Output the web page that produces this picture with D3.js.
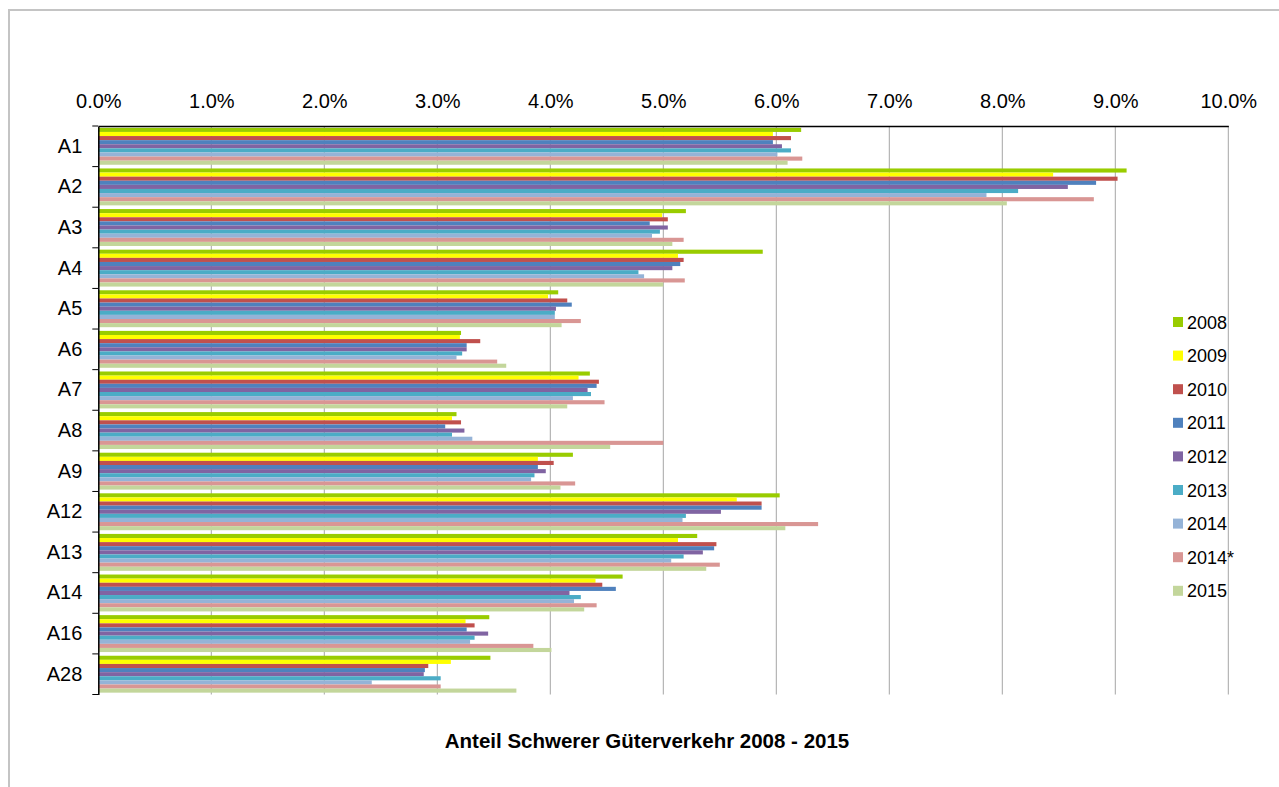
<!DOCTYPE html>
<html>
<head>
<meta charset="utf-8">
<script src="https://cdn.jsdelivr.net/npm/d3@7/dist/d3.min.js"></script>
<style>
  body { margin: 0; background: #fff; }
  svg { display: block; font-family: Arial, "Liberation Sans", sans-serif; }
</style>
</head>
<body>
<svg id="chart" width="1279" height="787"></svg>
<script>
const categories = ["A1", "A2", "A3", "A4", "A5", "A6", "A7", "A8", "A9", "A12", "A13", "A14", "A16", "A28"];
const years = ["2008", "2009", "2010", "2011", "2012", "2013", "2014", "2014*", "2015"];
const colors = ["#99CC00", "#FFFF00", "#C0504D", "#4F81BD", "#8064A2", "#4BACC6", "#95B3D7", "#D99694", "#C3D69B"];
const xTicks = [0, 0.01, 0.02, 0.03, 0.04, 0.05, 0.06, 0.07, 0.08, 0.09, 0.10];

// share per road and year, in percent
const v2008 = [6.22, 9.10, 5.20, 5.88, 4.07, 3.21, 4.35, 3.17, 4.20, 6.03, 5.30, 4.64, 3.46, 3.47];
const v2009 = [5.97, 8.45, 4.99, 5.13, 3.98, 3.20, 4.25, 3.13, 3.89, 5.65, 5.13, 4.40, 3.25, 3.12];
const v2010 = [6.13, 9.02, 5.04, 5.18, 4.15, 3.38, 4.43, 3.21, 4.03, 5.87, 5.47, 4.46, 3.33, 2.92];
const v2011 = [5.97, 8.83, 4.88, 5.15, 4.19, 3.26, 4.41, 3.07, 3.89, 5.87, 5.45, 4.58, 3.26, 2.89];
const v2012 = [6.05, 8.58, 5.04, 5.08, 4.05, 3.26, 4.33, 3.24, 3.96, 5.51, 5.35, 4.17, 3.45, 2.88];
const v2013 = [6.13, 8.14, 4.97, 4.78, 4.04, 3.22, 4.36, 3.13, 3.86, 5.20, 5.18, 4.27, 3.33, 3.03];
const v2014 = [6.01, 7.86, 4.90, 4.83, 4.04, 3.17, 4.20, 3.31, 3.83, 5.17, 5.07, 4.21, 3.29, 2.42];
const v2014s = [6.23, 8.81, 5.18, 5.19, 4.27, 3.53, 4.48, 5.00, 4.22, 6.37, 5.50, 4.41, 3.85, 3.03];
const v2015 = [6.10, 8.04, 5.08, 5.00, 4.10, 3.61, 4.15, 4.53, 4.09, 6.08, 5.38, 4.30, 4.01, 3.70];
const series = [v2008, v2009, v2010, v2011, v2012, v2013, v2014, v2014s, v2015];

const svg = d3.select("#chart");
const plotLeft = 98.3, plotRight = 1228.3, plotTop = 126, plotBottom = 694.5;

// outer frame (only top and left visible)
svg.append("path")
  .attr("d", "M9,787 L9,10 L1279,10")
  .attr("fill", "none")
  .attr("stroke", "#C4C4C4")
  .attr("stroke-width", 2);

const x = d3.scaleLinear().domain([0, 0.10]).range([plotLeft, plotRight]);
const y = d3.scaleBand().domain(categories).range([plotTop, plotBottom]);
const yInner = d3.scaleBand().domain(years).range([0, y.bandwidth()]).paddingOuter(0.45);

// gridlines
svg.append("g")
  .selectAll("line")
  .data(xTicks.slice(1))
  .enter()
  .append("line")
  .attr("x1", d => x(d)).attr("x2", d => x(d))
  .attr("y1", plotTop).attr("y2", plotBottom)
  .attr("stroke", "#A6A6A6")
  .attr("stroke-width", 1);

// bars
const groups = svg.append("g")
  .selectAll("g")
  .data(categories)
  .enter()
  .append("g")
  .attr("transform", d => `translate(0,${y(d)})`);

groups.selectAll("rect")
  .data((c, i) => years.map((yr, j) => ({ yr, j, v: series[j][i] / 100 })))
  .enter()
  .append("rect")
  .attr("x", x(0))
  .attr("y", d => yInner(d.yr))
  .attr("width", d => x(d.v) - x(0))
  .attr("height", yInner.bandwidth())
  .attr("fill", d => colors[d.j]);

// top axis
const xAxis = svg.append("g")
  .attr("transform", `translate(0,${plotTop})`)
  .call(d3.axisTop(x).tickValues(xTicks).tickFormat(d3.format(".1%")).tickSize(0).tickPadding(18));
xAxis.select(".domain").attr("stroke", "#000").attr("stroke-width", 1.5);
xAxis.selectAll("text")
  .attr("font-size", 20)
  .attr("font-family", "Arial, 'Liberation Sans', sans-serif")
  .attr("fill", "#000");

// left axis with ticks at category boundaries
const yAxis = svg.append("g")
  .attr("transform", `translate(${plotLeft},0)`)
  .call(d3.axisLeft(y).tickSize(0).tickPadding(16));
yAxis.select(".domain").attr("stroke", "#000").attr("stroke-width", 1.5);
yAxis.selectAll("text")
  .attr("font-size", 20)
  .attr("font-family", "Arial, 'Liberation Sans', sans-serif")
  .attr("fill", "#000");

svg.append("g")
  .selectAll("line")
  .data(categories.map(c => y(c)).concat([plotBottom]))
  .enter()
  .append("line")
  .attr("x1", plotLeft - 6).attr("x2", plotLeft)
  .attr("y1", d => d).attr("y2", d => d)
  .attr("stroke", "#000")
  .attr("stroke-width", 1);

// legend
const legend = svg.append("g")
  .selectAll("g")
  .data(years)
  .enter()
  .append("g")
  .attr("transform", (d, i) => `translate(1173,${322 + i * 33.6})`);

legend.append("rect")
  .attr("x", 0).attr("y", -5)
  .attr("width", 10).attr("height", 10)
  .attr("fill", (d, i) => colors[i]);

legend.append("text")
  .attr("x", 14)
  .attr("y", 6.5)
  .attr("font-size", 18)
  .attr("fill", "#000")
  .text(d => d);

// title below
svg.append("text")
  .attr("x", 647)
  .attr("y", 748)
  .attr("text-anchor", "middle")
  .attr("font-size", 20.5)
  .attr("font-weight", "bold")
  .attr("fill", "#000")
  .text("Anteil Schwerer Güterverkehr 2008 - 2015");
</script>
</body>
</html>
